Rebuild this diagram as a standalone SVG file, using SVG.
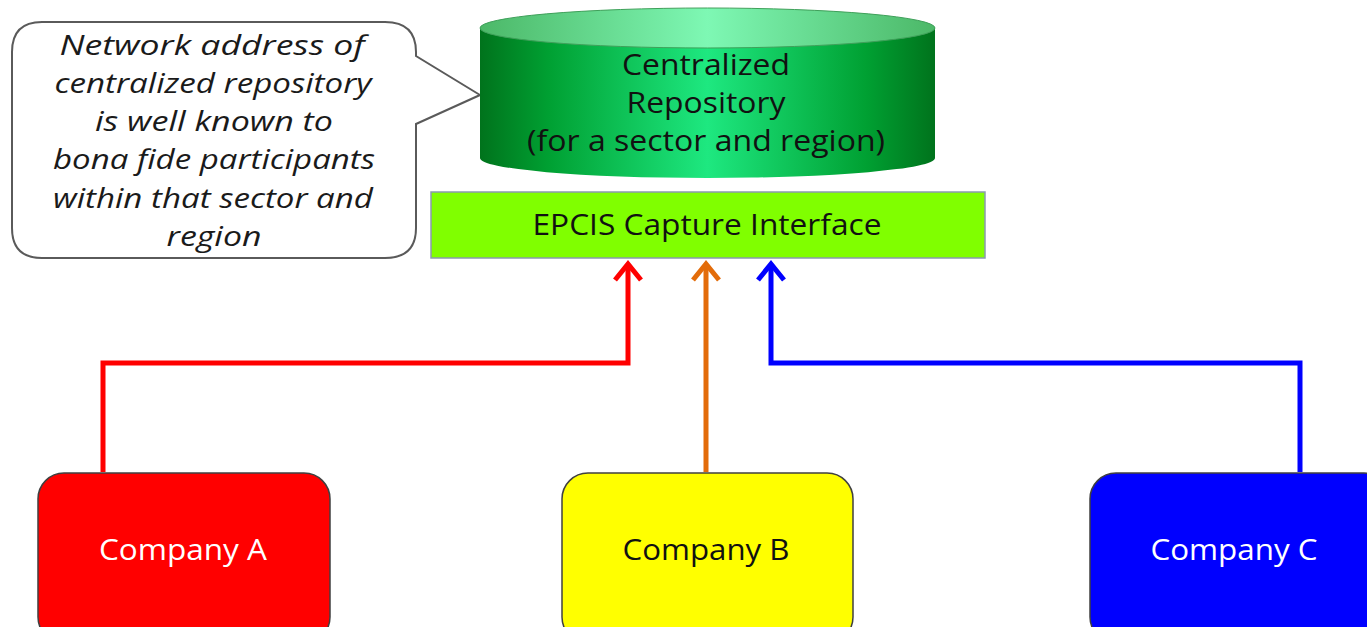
<svg xmlns="http://www.w3.org/2000/svg" width="1367" height="627" viewBox="0 0 1367 627">
  <defs>
    <linearGradient id="cylBody" x1="0" y1="0" x2="1" y2="0">
      <stop offset="0" stop-color="#00731c"/>
      <stop offset="0.15" stop-color="#00a032"/>
      <stop offset="0.5" stop-color="#1ee880"/>
      <stop offset="0.85" stop-color="#00a032"/>
      <stop offset="1" stop-color="#00731c"/>
    </linearGradient>
    <linearGradient id="cylTop" x1="0" y1="0" x2="1" y2="0">
      <stop offset="0" stop-color="#4cb868"/>
      <stop offset="0.5" stop-color="#7ef8b4"/>
      <stop offset="1" stop-color="#4cb868"/>
    </linearGradient>
    <style>
      .lbl { font-family: "Open Sans", "Liberation Sans", sans-serif; font-size: 29px; font-weight: 500; text-anchor: middle; }
      .note { font-family: "Open Sans", "Liberation Sans", sans-serif; font-style: italic; font-weight: 500; font-size: 28px; fill: #1a1a1a; text-anchor: middle; }
      .box { stroke: #404040; stroke-width: 1.5; }
      .wire { fill: none; stroke-width: 5; stroke-linejoin: miter; }
      .head { fill: none; stroke-width: 5; stroke-linecap: butt; stroke-linejoin: miter; }
    </style>
  </defs>

  <rect width="1367" height="627" fill="#ffffff"/>

  <!-- Callout bubble -->
  <g id="callout">
    <path d="M42,22 H385 Q416,22 416,52 V56 L480,95 L416,124 V228 Q416,258 385,258 H42 Q12,258 12,228 V52 Q12,22 42,22 Z" fill="#ffffff" stroke="#5a5a5a" stroke-width="2"/>
    <text class="note" x="212" y="55" textLength="305" lengthAdjust="spacingAndGlyphs">Network address of</text>
    <text class="note" x="213" y="93" textLength="317" lengthAdjust="spacingAndGlyphs">centralized repository</text>
    <text class="note" x="214" y="131" textLength="238" lengthAdjust="spacingAndGlyphs">is well known to</text>
    <text class="note" x="214" y="169" textLength="322" lengthAdjust="spacingAndGlyphs">bona fide participants</text>
    <text class="note" x="213" y="208" textLength="320" lengthAdjust="spacingAndGlyphs">within that sector and</text>
    <text class="note" x="214" y="246" textLength="95" lengthAdjust="spacingAndGlyphs">region</text>
  </g>

  <!-- Repository cylinder -->
  <g id="repository">
    <path d="M480,28 V158 A227.5,20 0 0 0 935,158 V28 Z" fill="url(#cylBody)"/>
    <ellipse cx="707.5" cy="28" rx="227.5" ry="20" fill="url(#cylTop)" stroke="#3fa05a" stroke-width="1"/>
    <text class="lbl" x="706" y="75" fill="#111" textLength="168" lengthAdjust="spacingAndGlyphs">Centralized</text>
    <text class="lbl" x="706" y="113" fill="#111" textLength="159" lengthAdjust="spacingAndGlyphs">Repository</text>
    <text class="lbl" x="706" y="151" fill="#111" textLength="358" lengthAdjust="spacingAndGlyphs">(for a sector and region)</text>
  </g>

  <!-- Capture interface -->
  <g id="capture-interface">
    <rect x="431" y="192" width="554" height="66" fill="#80ff00" stroke="#8a9ab0" stroke-width="1.5"/>
    <text class="lbl" x="707" y="235" fill="#111" textLength="349" lengthAdjust="spacingAndGlyphs">EPCIS Capture Interface</text>
  </g>

  <!-- Connectors -->
  <g id="connectors">
    <path class="wire" d="M103,472 V363 H628 V264" stroke="#ff0000"/>
    <path class="head" d="M615,280 L628,264 L641,280" stroke="#ff0000"/>
    <path class="wire" d="M706,472 V264" stroke="#e36c0a"/>
    <path class="head" d="M693,280 L706,264 L719,280" stroke="#e36c0a"/>
    <path class="wire" d="M1300,472 V363 H771 V264" stroke="#0000ff"/>
    <path class="head" d="M758,280 L771,264 L784,280" stroke="#0000ff"/>
  </g>

  <!-- Companies -->
  <g id="company-a">
    <rect class="box" x="38" y="473" width="292" height="170" rx="26" fill="#ff0000"/>
    <text class="lbl" x="183" y="560" fill="#ffffff" textLength="168" lengthAdjust="spacingAndGlyphs">Company A</text>
  </g>
  <g id="company-b">
    <rect class="box" x="562" y="473" width="291" height="170" rx="26" fill="#ffff00"/>
    <text class="lbl" x="706" y="560" fill="#111" textLength="167" lengthAdjust="spacingAndGlyphs">Company B</text>
  </g>
  <g id="company-c">
    <rect class="box" x="1090" y="473" width="300" height="170" rx="26" fill="#0000ff"/>
    <text class="lbl" x="1234" y="560" fill="#ffffff" textLength="167" lengthAdjust="spacingAndGlyphs">Company C</text>
  </g>
</svg>
